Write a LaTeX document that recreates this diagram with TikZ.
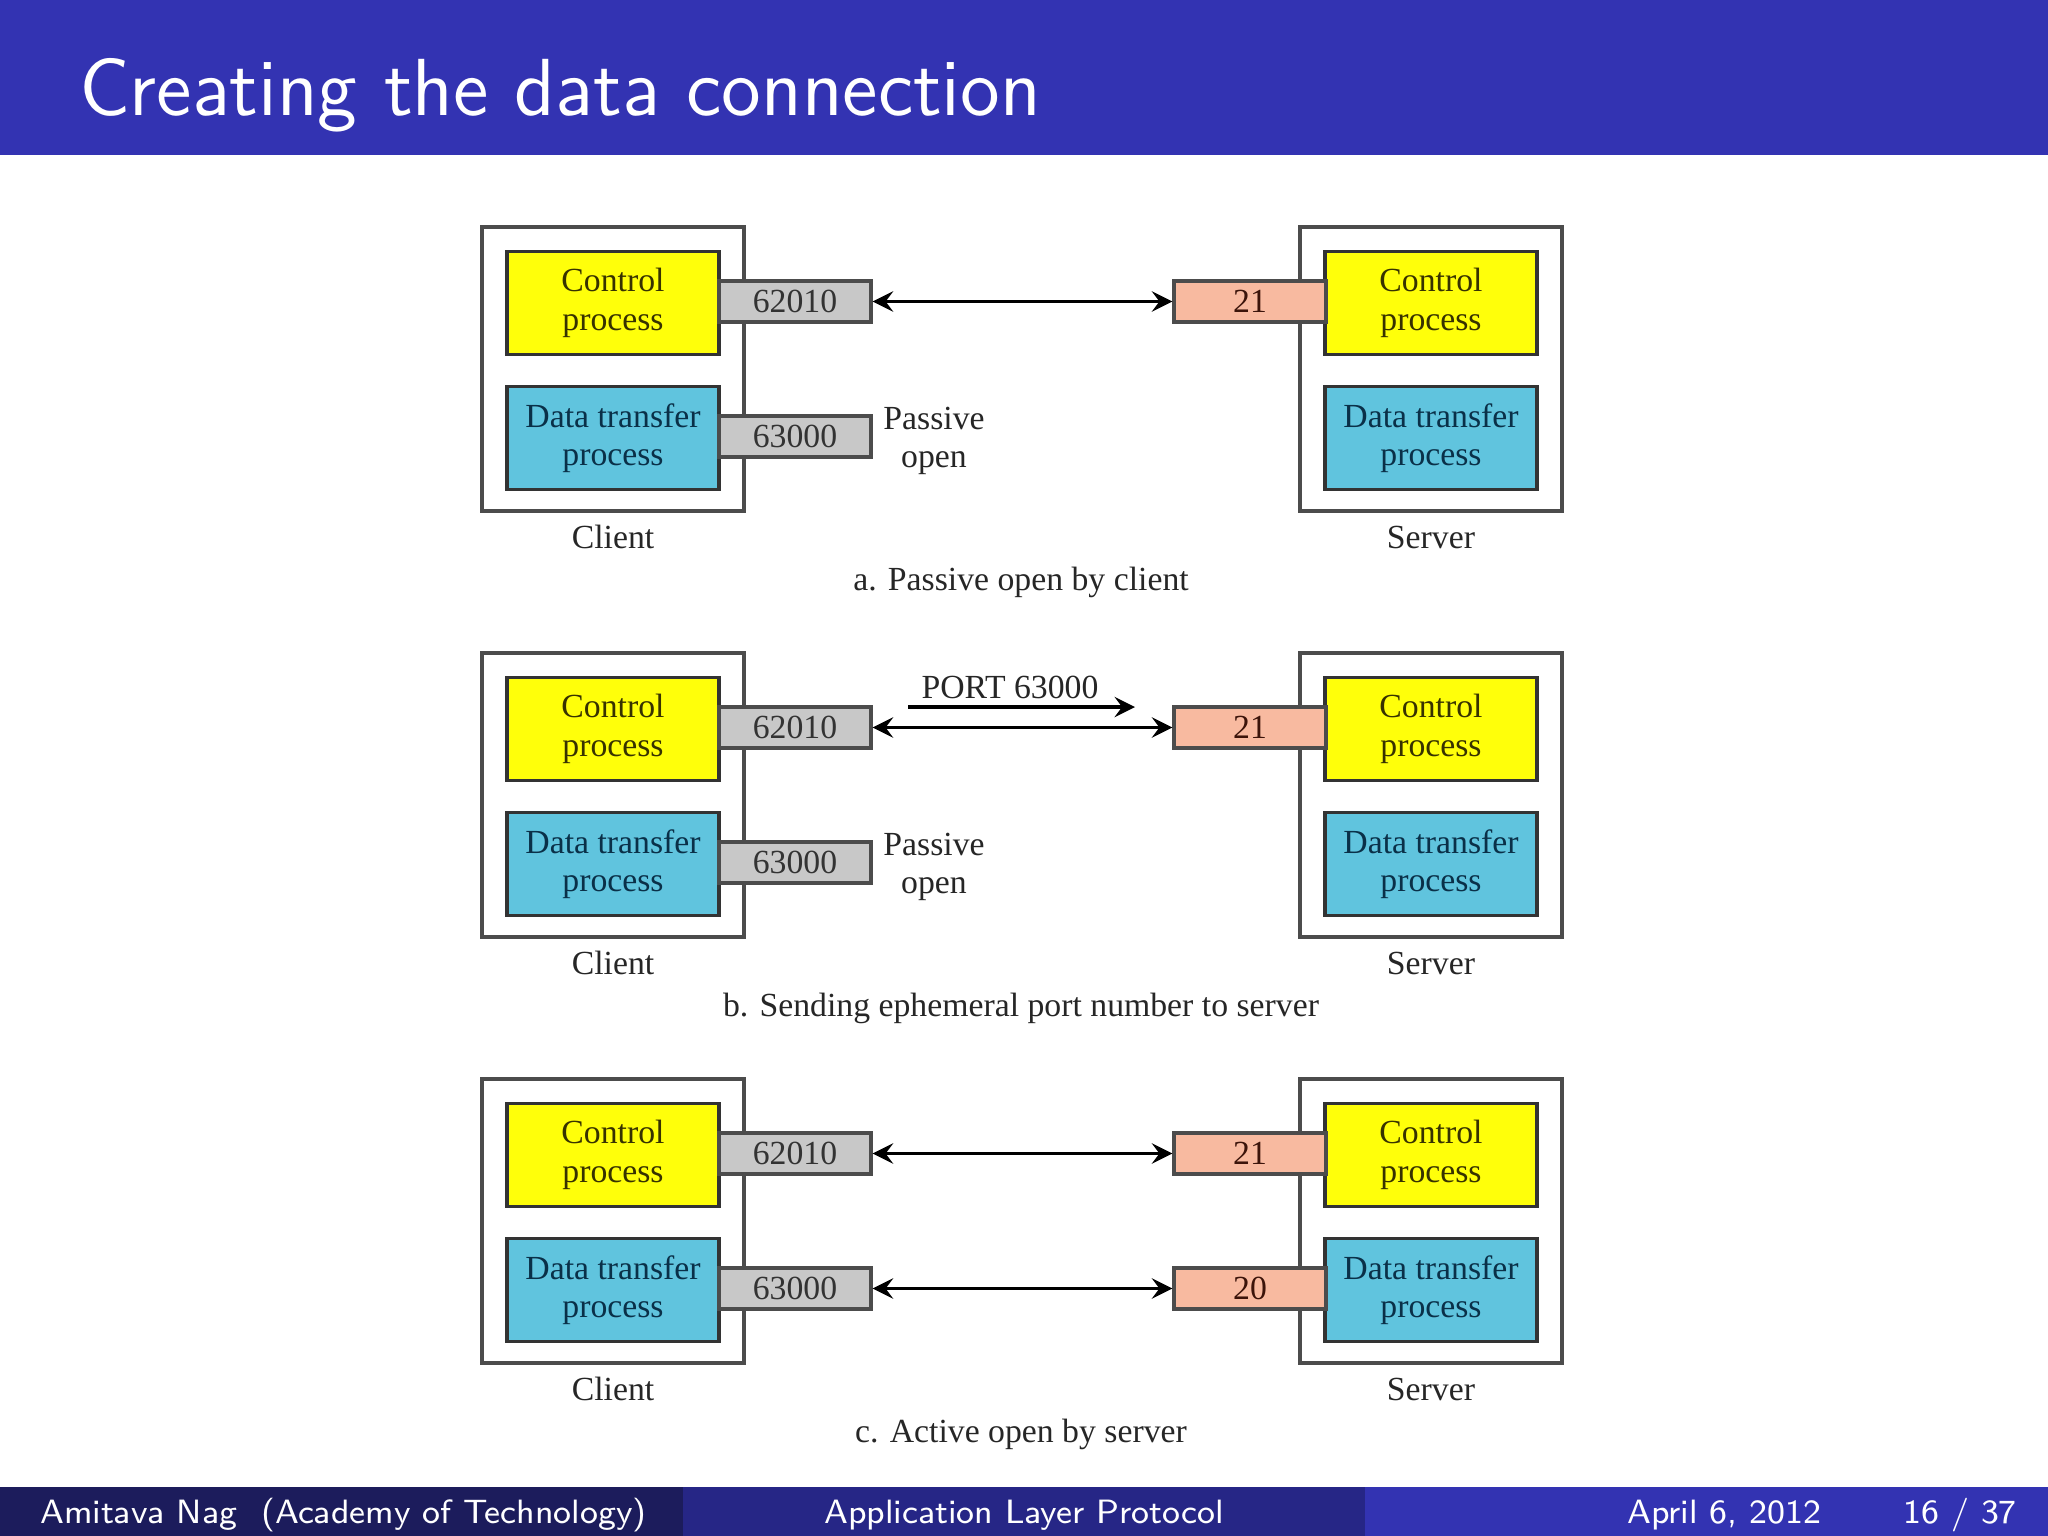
\documentclass[tikz,border=0pt]{standalone}
\usepackage{fontspec}
\newfontfamily\figfont{Liberation Serif}
\usetikzlibrary{positioning}
\definecolor{beamerblue}{RGB}{51,51,178}
\definecolor{footmid}{RGB}{38,38,134}
\definecolor{footdark}{RGB}{28,28,92}
\definecolor{procyellow}{RGB}{255,255,10}
\definecolor{proccyan}{RGB}{96,196,222}
\definecolor{portgray}{RGB}{200,200,200}
\definecolor{portsalmon}{RGB}{248,186,160}
\definecolor{ctrltext}{RGB}{55,50,0}
\definecolor{datatext}{RGB}{10,48,72}
\tikzset{%
    host/.style={
      rectangle,
      draw=black!70,
      line width=0.6pt,
      minimum width=16.375mm,
      minimum height=17.75mm
    },
    process/.style={
      rectangle,
      draw=black!80,
      line width=0.6pt,
      inner sep=0pt,
      minimum width=13.25mm,
      minimum height=6.44mm,
      align=center,
      font=\figfont\fontsize{6}{6.8}\selectfont
    },
    ctrlproc/.style={process, fill=procyellow, text=ctrltext},
    dataproc/.style={process, fill=proccyan, text=datatext},
    clport/.style={
      rectangle,
      draw=black!70,
      line width=0.6pt,
      inner sep=0pt,
      minimum width=9.5mm,
      minimum height=2.56mm,
      fill=portgray,
      text=black!80,
      font=\figfont\fontsize{6}{6}\selectfont
    },
    svport/.style={clport, fill=portsalmon, text={rgb,255:red,60;green,20;blue,10}},
    figtext/.style={
      inner sep=0pt,
      align=center,
      text=black!85,
      font=\figfont\fontsize{6}{6.8}\selectfont
    },
    foot/.style={
      inner sep=0pt,
      text=white,
      font=\sffamily\fontsize{6}{7}\selectfont
    }
  }

\begin{document}
\begin{tikzpicture}[x=0.0625mm, y=-0.0625mm, >=stealth]
      \useasboundingbox (0,0) rectangle (2048,1536);

      % frame title and footline
      \fill[beamerblue] (0,0) rectangle (2048,155);
      \node [anchor=base west, inner sep=0pt, text=white, font=\sffamily\fontsize{14.4}{17}\selectfont] (title) at (78,115) {Creating the data connection};
      \fill[footdark] (0,1487) rectangle (683,1536);
      \fill[footmid] (683,1487) rectangle (1365,1536);
      \fill[beamerblue] (1365,1487) rectangle (2048,1536);
      \node [foot, anchor=base west] (author) at (39,1523) {Amitava Nag~~(Academy of Technology)};
      \node [foot, anchor=base] (talk) at (1024,1523) {Application Layer Protocol};
      \node [foot, anchor=base west] (date) at (1626,1523) {April 6, 2012};
      \node [foot, anchor=base east] (page) at (2018,1523) {16 / 37};

      % a. passive open by client
      \node [host] (cla) at (613,369) {};
      \node [host] (sva) at (1431,369) {};
      \node [ctrlproc] (ccpa) at (613,303) {Control\\process};
      \node [dataproc] (cdpa) at (613,438) {Data transfer\\process};
      \node [ctrlproc] (scpa) at (1431,303) {Control\\process};
      \node [dataproc] (sdpa) at (1431,438) {Data transfer\\process};
      \node [clport] (p1a) at (795,301.5) {62010};
      \node [clport] (p2a) at (795,436.5) {63000};
      \node [svport] (p3a) at (1250,301.5) {21};
      \node [figtext] (popa) at (934,441) {Passive\\open};
      \node [figtext] (cna) at (613,537) {Client};
      \node [figtext] (sna) at (1431,537) {Server};
      \node [figtext] (capa) at (1021,582) {a. Passive open by client};

      \draw [<->, line width=0.6pt] (p1a) -- (p3a);

      % b. sending ephemeral port number to server
      \node [host] (clb) at (613,795) {};
      \node [host] (svb) at (1431,795) {};
      \node [ctrlproc] (ccpb) at (613,729) {Control\\process};
      \node [dataproc] (cdpb) at (613,864) {Data transfer\\process};
      \node [ctrlproc] (scpb) at (1431,729) {Control\\process};
      \node [dataproc] (sdpb) at (1431,864) {Data transfer\\process};
      \node [clport] (p1b) at (795,727.5) {62010};
      \node [clport] (p2b) at (795,862.5) {63000};
      \node [svport] (p3b) at (1250,727.5) {21};
      \node [figtext] (popb) at (934,867) {Passive\\open};
      \node [figtext] (cnb) at (613,963) {Client};
      \node [figtext] (snb) at (1431,963) {Server};
      \node [figtext] (capb) at (1021,1008) {b. Sending ephemeral port number to server};

      \coordinate (msgs) at (908,707);
      \coordinate (msge) at (1135,707);
      \node [figtext, anchor=base] (msg) at (1010,698) {PORT 63000};

      \draw [<->, line width=0.6pt] (p1b) -- (p3b);
      \draw [->, line width=0.6pt] (msgs) -- (msge);

      % c. active open by server
      \node [host] (clc) at (613,1221) {};
      \node [host] (svc) at (1431,1221) {};
      \node [ctrlproc] (ccpc) at (613,1155) {Control\\process};
      \node [dataproc] (cdpc) at (613,1290) {Data transfer\\process};
      \node [ctrlproc] (scpc) at (1431,1155) {Control\\process};
      \node [dataproc] (sdpc) at (1431,1290) {Data transfer\\process};
      \node [clport] (p1c) at (795,1153.5) {62010};
      \node [clport] (p2c) at (795,1288.5) {63000};
      \node [svport] (p3c) at (1250,1153.5) {21};
      \node [svport] (p4c) at (1250,1288.5) {20};
      \node [figtext] (cnc) at (613,1389) {Client};
      \node [figtext] (snc) at (1431,1389) {Server};
      \node [figtext] (capc) at (1021,1434) {c. Active open by server};

      \draw [<->, line width=0.6pt] (p1c) -- (p3c);
      \draw [<->, line width=0.6pt] (p2c) -- (p4c);
\end{tikzpicture}
\end{document}
